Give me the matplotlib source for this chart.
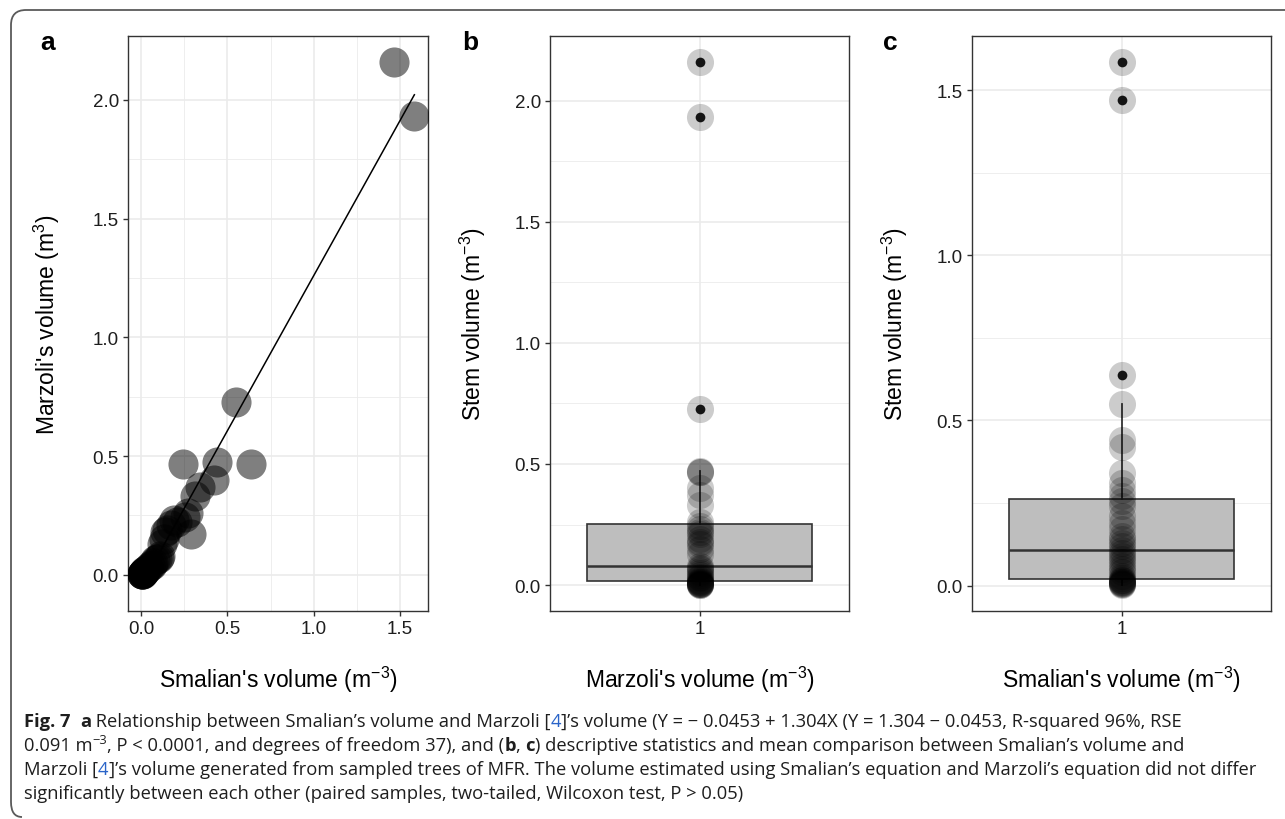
import matplotlib
matplotlib.use("Agg")
import matplotlib.pyplot as plt
import matplotlib.transforms as mtransforms
from matplotlib.path import Path
from matplotlib.patches import PathPatch
import numpy as np

# ---------------- data ----------------
smalian = [0.002, 0.004, 0.005, 0.007, 0.008, 0.010, 0.012, 0.014, 0.016,
           0.018, 0.022, 0.03, 0.04, 0.05, 0.06, 0.07, 0.08, 0.09, 0.10,
           0.108, 0.12, 0.13, 0.14, 0.15, 0.17, 0.19, 0.21, 0.24, 0.256,
           0.27, 0.29, 0.31, 0.34, 0.42, 0.44, 0.551, 0.637, 1.469, 1.585]
marzoli = [0.001, 0.002, 0.003, 0.004, 0.005, 0.006, 0.008, 0.010, 0.012,
           0.014, 0.016, 0.02, 0.03, 0.035, 0.04, 0.05, 0.06, 0.065, 0.07,
           0.077, 0.13, 0.15, 0.18, 0.19, 0.21, 0.23, 0.22, 0.466, 0.242,
           0.26, 0.17, 0.33, 0.37, 0.40, 0.473, 0.726, 0.466, 2.159, 1.933]
fit_intercept = -0.0453
fit_slope = 1.304
box_category = ["1"]

a_xticks = [0.0, 0.5, 1.0, 1.5]
a_yticks = [0.0, 0.5, 1.0, 1.5, 2.0]
b_yticks = [0.0, 0.5, 1.0, 1.5, 2.0]
c_yticks = [0.0, 0.5, 1.0, 1.5]

# ---------------- style ----------------
W, H = 1285, 820
plt.rcParams["font.family"] = ["Liberation Sans", "DejaVu Sans"]
plt.rcParams["mathtext.fontset"] = "custom"
plt.rcParams["mathtext.rm"] = "Liberation Sans"
plt.rcParams["mathtext.it"] = "Liberation Sans:italic"
plt.rcParams["mathtext.bf"] = "Liberation Sans:bold"
plt.rcParams["mathtext.default"] = "regular"

DARK = "#333333"
GRID = "#ebebeb"
TICKLAB = 13.5
TITLE = 16.5

fig = plt.figure(figsize=(W / 100, H / 100), dpi=100)
pix = mtransforms.Affine2D().scale(1 / W, -1 / H).translate(0, 1) + fig.transFigure


def add_axes(l, t, r, b):
    return fig.add_axes([l / W, 1 - b / H, (r - l) / W, (b - t) / H])


def style(ax, yt):
    for s in ax.spines.values():
        s.set_color(DARK)
        s.set_linewidth(1.0)
    ax.set_axisbelow(True)
    ax.set_yticks(yt)
    ax.set_yticklabels([f"{v:.1f}" for v in yt])
    ymin = [(a + b) / 2 for a, b in zip(yt[:-1], yt[1:])]
    ax.set_yticks(ymin, minor=True)
    ax.grid(True, which="major", color=GRID, lw=1.2)
    ax.grid(True, which="minor", axis="y", color=GRID, lw=0.6)
    ax.tick_params(which="major", direction="out", length=3.5, width=1.0,
                   color=DARK, labelsize=TICKLAB, labelcolor="#1e1e1e", pad=3)
    ax.tick_params(which="minor", length=0)


def expand(vals, f=0.05):
    lo, hi = min(vals), max(vals)
    r = hi - lo
    return lo - f * r, hi + f * r


# ---------------- panel a ----------------
axA = add_axes(128, 37, 428, 612)
axA.scatter(smalian, marzoli, s=470, color="black", alpha=0.5, linewidths=0, zorder=3)
xs = np.array([min(smalian), max(smalian)])
axA.plot(xs, fit_intercept + fit_slope * xs, color="black", lw=1.1, zorder=4)
style(axA, a_yticks)
axA.set_xticks(a_xticks)
axA.set_xticklabels([f"{v:.1f}" for v in a_xticks])
axA.set_xticks([(a + b) / 2 for a, b in zip(a_xticks[:-1], a_xticks[1:])], minor=True)
axA.grid(True, which="minor", axis="x", color=GRID, lw=0.6)
axA.set_xlim(*expand(smalian))
axA.set_ylim(*expand(list(marzoli) + [fit_intercept + fit_slope * min(smalian)]))


# ---------------- panels b, c ----------------
def boxpanel(l, r, data, yt):
    ax = add_axes(l, 37, r, 612)
    ax.boxplot([data], positions=[1], widths=0.9, patch_artist=True, showcaps=False,
               boxprops=dict(facecolor="#bebebe", edgecolor=DARK, linewidth=1.2),
               medianprops=dict(color=DARK, linewidth=1.8),
               whiskerprops=dict(color=DARK, linewidth=1.3),
               flierprops=dict(marker="o", markerfacecolor="#1a1a1a",
                               markeredgecolor="none", markersize=7),
               zorder=2)
    ax.scatter(np.ones(len(data)), data, s=380, color="black", alpha=0.2,
               linewidths=0, zorder=3)
    style(ax, yt)
    ax.set_xlim(0.4, 1.6)
    ax.set_xticks([1])
    ax.set_xticklabels(box_category)
    ax.set_ylim(*expand(data))
    return ax


axB = boxpanel(550, 849, marzoli, b_yticks)
axC = boxpanel(972, 1271, smalian, c_yticks)

# ---------------- titles / labels ----------------
fig.text(278, 680, "Smalian's volume (m$^{-3}$)", transform=pix, ha="center", va="center", fontsize=TITLE)
fig.text(699.5, 680, "Marzoli's volume (m$^{-3}$)", transform=pix, ha="center", va="center", fontsize=TITLE)
fig.text(1121.5, 680, "Smalian's volume (m$^{-3}$)", transform=pix, ha="center", va="center", fontsize=TITLE)
fig.text(47, 324.5, "Marzoli's volume (m$^{3}$)", transform=pix, ha="center", va="center", rotation=90, fontsize=TITLE)
fig.text(473, 324.5, "Stem volume (m$^{-3}$)", transform=pix, ha="center", va="center", rotation=90, fontsize=TITLE)
fig.text(895, 324.5, "Stem volume (m$^{-3}$)", transform=pix, ha="center", va="center", rotation=90, fontsize=TITLE)

for lab, x in [("a", 48), ("b", 470), ("c", 890)]:
    fig.text(x, 43, lab, transform=pix, ha="center", va="center", fontsize=19, fontweight="bold")

# ---------------- frame ----------------
verts = [(W + 5, 11), (26, 11), (11, 11), (11, 26), (11, 803), (11, 818), (22, 818)]
codes = [Path.MOVETO, Path.LINETO, Path.CURVE3, Path.CURVE3, Path.LINETO, Path.CURVE3, Path.CURVE3]
fig.patches.append(PathPatch(Path(verts, codes), transform=pix, facecolor="none",
                             edgecolor="#5a5a5a", lw=1.3, clip_on=False))

# ---------------- caption ----------------
renderer = fig.canvas.get_renderer()
CAP_FONT = ["Open Sans", "DejaVu Sans"]
CAP_SIZE = 13.2
BLUE = "#2a64c8"


def piece_width(txt, kw):
    t1 = fig.text(0, 0, "|" + txt + "|", **kw)
    t2 = fig.text(0, 0, "||", **kw)
    w = t1.get_window_extent(renderer).width - t2.get_window_extent(renderer).width
    t1.remove()
    t2.remove()
    return w


def rich_line(x, y, pieces):
    for txt, opts in pieces:
        kw = dict(family=CAP_FONT, fontsize=CAP_SIZE, color="#1e1e1e")
        dy = 0
        if opts == "b":
            kw["fontweight"] = "bold"
        elif opts == "blue":
            kw["color"] = BLUE
        elif opts == "sup":
            kw["fontsize"] = CAP_SIZE * 0.7
            dy = -7
        fig.text(x, y + dy, txt, transform=pix, ha="left", va="baseline", **kw)
        x += piece_width(txt, kw)


rich_line(24, 727, [("Fig. 7", "b"), ("  ", ""), ("a", "b"),
                    (" Relationship between Smalian\u2019s volume and Marzoli [", ""), ("4", "blue"),
                    ("]\u2019s volume (Y = \u2212 0.0453 + 1.304X (Y = 1.304 \u2212 0.0453, R-squared 96%, RSE", "")])
rich_line(24, 751, [("0.091 m", ""), ("\u22123", "sup"),
                    (", P < 0.0001, and degrees of freedom 37), and (", ""), ("b", "b"), (", ", ""),
                    ("c", "b"), (") descriptive statistics and mean comparison between Smalian\u2019s volume and", "")])
rich_line(24, 775, [("Marzoli [", ""), ("4", "blue"),
                    ("]\u2019s volume generated from sampled trees of MFR. The volume estimated using Smalian\u2019s equation and Marzoli\u2019s equation did not differ", "")])
rich_line(24, 799, [("significantly between each other (paired samples, two-tailed, Wilcoxon test, P > 0.05)", "")])

fig.savefig("out.png", dpi=100)
